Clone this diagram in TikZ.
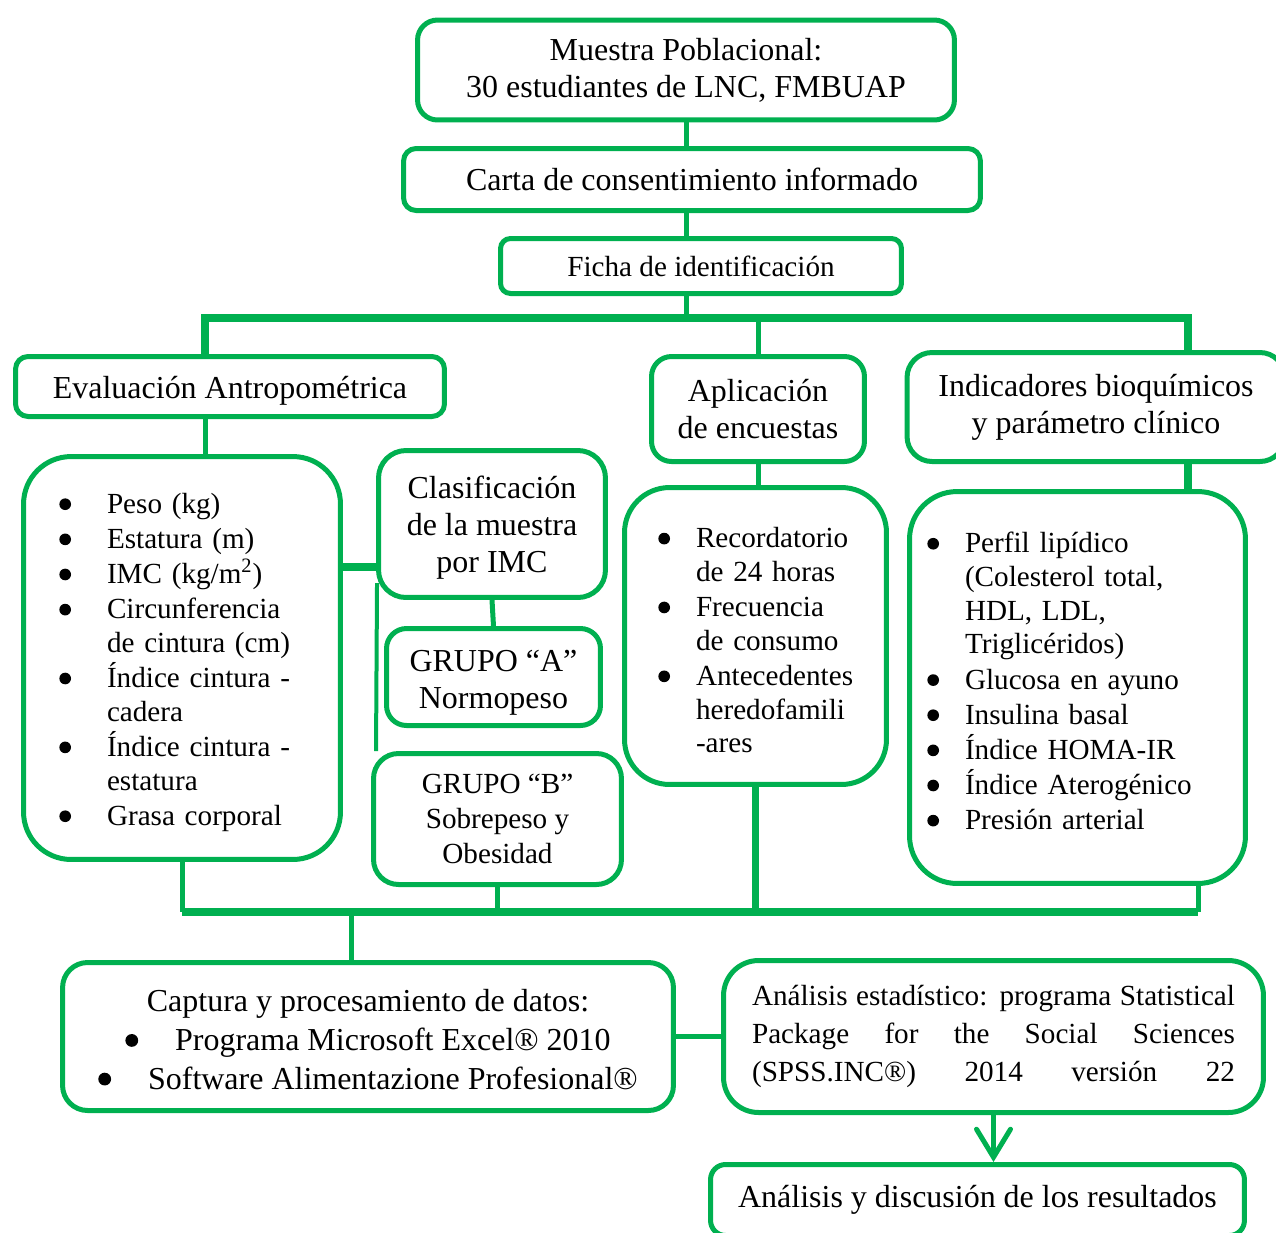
\documentclass[tikz,border=0pt]{standalone}
\usepackage{fontspec}
\setmainfont{Liberation Serif}
\usetikzlibrary{arrows.meta,positioning,calc}
\definecolor{lnGreen}{HTML}{00B050}
\newcommand{\bigsz}{\fontsize{18.2}{21}\selectfont}
\newcommand{\smallsz}{\fontsize{16.6}{19.2}\selectfont}
\newcommand{\blt}{\tikz[baseline=0pt]\fill[black] (0,0.31em) circle[radius=0.2em];}
% bullet list: #1 left margin, #2 label sep
\newenvironment{blist}[2]{\begin{list}{\blt}{\setlength{\leftmargin}{#1}\setlength{\labelsep}{#2}%
  \setlength{\labelwidth}{\dimexpr#1-#2\relax}\setlength{\topsep}{0pt}\setlength{\partopsep}{0pt}%
  \setlength{\parsep}{0pt}\setlength{\itemsep}{0.8pt}}}{\end{list}}

\begin{document}
\begin{tikzpicture}[x=0.02cm,y=-0.02cm,
  box/.style={draw=lnGreen,line width=0.1cm,rounded corners=0.3cm,fill=white,align=center,inner sep=0pt,font=\bigsz},
  lst/.style={box,rounded corners=0.95cm,font=\smallsz,align=left},
  bus/.style={draw=lnGreen,line width=0.15cm},
  lnk/.style={draw=lnGreen,line width=0.1cm},
  arr/.style={lnk,-{Straight Barb[length=0.56cm,width=0.68cm,line cap=round]}}]
  \useasboundingbox (0,0) rectangle (1276,1232);
  \node[box,minimum width=10.74cm,minimum height=2cm,rounded corners=0.4cm] (muestra) at (686,70) {Muestra Poblacional:\\30 estudiantes de LNC, FMBUAP};
  \node[box,minimum width=11.54cm,minimum height=1.24cm,rounded corners=0.25cm] (carta) at (692,179.5) {Carta de consentimiento informado};
  \node[box,minimum width=8.02cm,minimum height=1.1cm,rounded corners=0.2cm,font=\smallsz] (ficha) at (701,266) {Ficha de identificación};
  \node[box,minimum width=8.58cm,minimum height=1.2cm,rounded corners=0.25cm] (eval) at (230,386.5) {\rule{0pt}{0.62cm}Evaluación Antropométrica};
  \node[box,minimum width=4.26cm,minimum height=2.1cm,rounded corners=0.4cm] (apli) at (758,409) {Aplicación\\de encuestas};
  \node[box,minimum width=7.56cm,minimum height=2.18cm,rounded corners=0.5cm] (indic) at (1096,407) {Indicadores bioquímicos\\y parámetro clínico};
  \node[lst,text width=6.34cm,minimum height=8.06cm] (antro) at (182,658) {%
    \begin{blist}{1.67cm}{0.72cm}
    \item Peso (kg)
    \item Estatura (m)
    \item IMC (kg/m\textsuperscript{2})
    \item Circunferencia\newline de cintura (cm)
    \item Índice cintura -\newline cadera
    \item Índice cintura -\newline estatura
    \item Grasa corporal
    \end{blist}\par\kern0.1cm};
  \node[box,minimum width=4.54cm,minimum height=2.94cm,rounded corners=0.55cm] (clasif) at (492,524) {\rule{0pt}{0.6cm}Clasificación\\de la muestra\\por IMC};
  \node[box,minimum width=4.28cm,minimum height=1.94cm,rounded corners=0.4cm] (grupoA) at (493.5,677) {\rule{0pt}{0.64cm}GRUPO “A”\\Normopeso};
  \node[box,minimum width=4.96cm,minimum height=2.62cm,rounded corners=0.5cm,font=\fontsize{16.6}{20}\selectfont] (grupoB) at (497.5,819) {GRUPO “B”\\Sobrepeso y\\Obesidad};
  \node[lst,text width=5.24cm,minimum height=5.94cm,rounded corners=0.9cm] (encuestas) at (755.5,636) {%
    \begin{blist}{1.43cm}{0.52cm}
    \item Recordatorio\newline de 24 horas
    \item Frecuencia\newline de consumo
    \item Antecedentes\newline heredofamili\newline -ares
    \end{blist}\par\kern0.1cm};
  \node[lst,text width=6.72cm,minimum height=7.84cm] (bioq) at (1077.5,687.5) {%
    \begin{blist}{1.11cm}{0.52cm}
    \item Perfil lipídico\newline (Colesterol total,\newline HDL, LDL,\newline Triglicéridos)
    \item Glucosa en ayuno
    \item Insulina basal
    \item Índice HOMA-IR
    \item Índice Aterogénico
    \item Presión arterial
    \end{blist}\par\kern0.52cm};
  \node[box,minimum width=12.22cm,minimum height=2.96cm,rounded corners=0.5cm,font=\fontsize{18.2}{22}\selectfont] (captura) at (368,1036.5) {\rule{0pt}{0.56cm}Captura y procesamiento de datos:\\
    \blt\hspace{0.74cm}Programa Microsoft Excel® 2010\\
    \blt\hspace{0.74cm}Software Alimentazione Profesional®};
  \node[box,minimum width=10.8cm,minimum height=3.04cm,rounded corners=0.7cm,font=\fontsize{16.6}{21.5}\selectfont,align=left] (spss) at (993.5,1036.5) {%
    \makebox[9.66cm][s]{Análisis estadístico: programa Statistical}\\
    \makebox[9.66cm][s]{Package for the Social Sciences}\\
    \makebox[9.66cm][s]{(SPSS.INC®) 2014 versión 22}};
  \node[box,minimum width=10.68cm,minimum height=1.42cm,rounded corners=0.3cm] (resultados) at (977.5,1200) {Análisis y discusión de los resultados};
  % top part
  \coordinate (busT) at (686,318);
  \coordinate (dropL) at (205,318);
  \coordinate (dropR) at (1188,318);
  \draw[lnk] (muestra.south -| busT) -- (carta.north -| busT);
  \draw[lnk] (carta.south -| busT) -- (ficha.north -| busT);
  \draw[lnk] (ficha.south -| busT) -- (busT);
  \draw[bus] (dropL |- eval.north) -- (dropL) -- (dropR) -- (dropR |- indic.north);
  \draw[lnk] (apli.north) -- (apli.north |- busT);
  \draw[lnk] (eval.south -| dropL) -- (antro.north -| dropL);
  \draw[lnk] (apli.south) -- (apli.south |- encuestas.north);
  \draw[bus] (indic.south -| dropR) -- (bioq.north -| dropR);
  % IMC groups
  \coordinate (lk) at (360,567);
  \draw[bus] (lk -| antro.east) -- (lk -| clasif.west);
  \draw[lnk,line width=0.08cm] ($(lk -| clasif.west)+(1,16)$) -- (grupoB.north -| clasif.west);
  \draw[lnk] (clasif.south) -- (grupoA.north);
  % bottom part
  \coordinate (busB) at (351,912);
  \coordinate (dropB) at (1198,912);
  \draw[bus] (antro.south |- busB) -- (dropB);
  \draw[lnk] (antro.south) -- (antro.south |- busB);
  \draw[lnk] (dropB) -- (dropB |- bioq.south);
  \draw[lnk] (grupoB.south) -- (grupoB.south |- busB);
  \draw[bus] (encuestas.south) -- (encuestas.south |- busB);
  \draw[lnk] (busB) -- (busB |- captura.north);
  \draw[lnk] (captura.east) -- (spss.west);
  \draw[arr] (spss.south) -- (spss.south |- resultados.north);
\end{tikzpicture}
\end{document}
